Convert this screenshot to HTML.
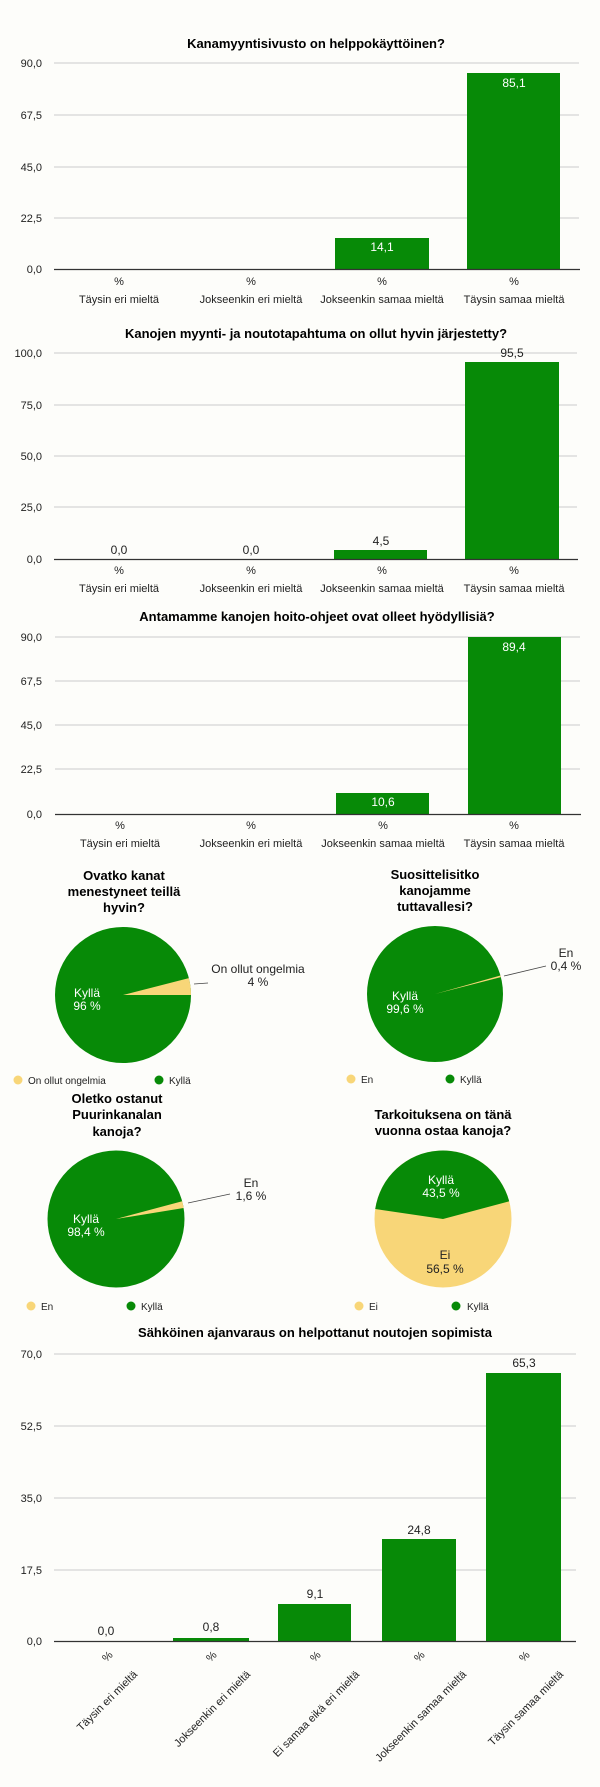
<!DOCTYPE html>
<html><head><meta charset="utf-8"><style>
html,body{margin:0;padding:0;background:#fdfdfa;}
svg{display:block;font-family:"Liberation Sans",Arial,sans-serif;}
.t{font-weight:bold;font-size:13px;fill:#000;text-anchor:middle}
.y{font-size:11px;fill:#222;text-anchor:end}
.c{font-size:11px;fill:#222;text-anchor:middle}
.g{stroke:#ccc;stroke-width:1}
.ax{stroke:#333;stroke-width:1.3}
.b{fill:#078a07}
.w{font-size:12px;fill:#fff;text-anchor:middle}
.d{font-size:12px;fill:#222;text-anchor:middle}
.l{font-size:10px;fill:#222}
</style></head><body>
<svg width="600" height="1787" viewBox="0 0 600 1787">
<!-- Chart 1 -->
<text class="t" x="316" y="48">Kanamyyntisivusto on helppokäyttöinen?</text>
<line class="g" x1="54" y1="63" x2="579" y2="63"/><line class="g" x1="54" y1="115" x2="579" y2="115"/><line class="g" x1="54" y1="167" x2="579" y2="167"/><line class="g" x1="54" y1="218" x2="579" y2="218"/>
<text class="y" x="42" y="67">90,0</text><text class="y" x="42" y="119">67,5</text><text class="y" x="42" y="171">45,0</text><text class="y" x="42" y="222">22,5</text><text class="y" x="42" y="273">0,0</text>
<rect class="b" x="335" y="238" width="94" height="31"/><rect class="b" x="467" y="73" width="93" height="196"/>
<line class="ax" x1="54" y1="269.5" x2="580" y2="269.5"/>
<text class="w" x="382" y="251">14,1</text><text class="w" x="514" y="87">85,1</text>
<text class="c" x="119" y="285">%</text><text class="c" x="251" y="285">%</text><text class="c" x="382" y="285">%</text><text class="c" x="514" y="285">%</text>
<text class="c" x="119" y="303">Täysin eri mieltä</text><text class="c" x="251" y="303">Jokseenkin eri mieltä</text><text class="c" x="382" y="303">Jokseenkin samaa mieltä</text><text class="c" x="514" y="303">Täysin samaa mieltä</text>
<!-- Chart 2 -->
<text class="t" x="316" y="338">Kanojen myynti- ja noutotapahtuma on ollut hyvin järjestetty?</text>
<line class="g" x1="54" y1="353" x2="577" y2="353"/><line class="g" x1="54" y1="405" x2="577" y2="405"/><line class="g" x1="54" y1="456" x2="577" y2="456"/><line class="g" x1="54" y1="507" x2="577" y2="507"/>
<text class="y" x="42" y="357">100,0</text><text class="y" x="42" y="409">75,0</text><text class="y" x="42" y="460">50,0</text><text class="y" x="42" y="511">25,0</text><text class="y" x="42" y="563">0,0</text>
<rect class="b" x="334" y="550" width="93" height="9"/><rect class="b" x="465" y="362" width="94" height="197"/>
<line class="ax" x1="54" y1="559.5" x2="578" y2="559.5"/>
<text class="d" x="119" y="554">0,0</text><text class="d" x="251" y="554">0,0</text><text class="d" x="381" y="545">4,5</text><text class="d" x="512" y="357">95,5</text>
<text class="c" x="119" y="574">%</text><text class="c" x="251" y="574">%</text><text class="c" x="382" y="574">%</text><text class="c" x="514" y="574">%</text>
<text class="c" x="119" y="592">Täysin eri mieltä</text><text class="c" x="251" y="592">Jokseenkin eri mieltä</text><text class="c" x="382" y="592">Jokseenkin samaa mieltä</text><text class="c" x="514" y="592">Täysin samaa mieltä</text>
<!-- Chart 3 -->
<text class="t" x="317" y="621">Antamamme kanojen hoito-ohjeet ovat olleet hyödyllisiä?</text>
<line class="g" x1="55" y1="637" x2="580" y2="637"/><line class="g" x1="55" y1="681" x2="580" y2="681"/><line class="g" x1="55" y1="725" x2="580" y2="725"/><line class="g" x1="55" y1="769" x2="580" y2="769"/>
<text class="y" x="42" y="641">90,0</text><text class="y" x="42" y="685">67,5</text><text class="y" x="42" y="729">45,0</text><text class="y" x="42" y="773">22,5</text><text class="y" x="42" y="818">0,0</text>
<rect class="b" x="336" y="793" width="93" height="21"/><rect class="b" x="468" y="637" width="93" height="177"/>
<line class="ax" x1="55" y1="814.5" x2="581" y2="814.5"/>
<text class="w" x="383" y="806">10,6</text><text class="w" x="514" y="651">89,4</text>
<text class="c" x="120" y="829">%</text><text class="c" x="251" y="829">%</text><text class="c" x="383" y="829">%</text><text class="c" x="514" y="829">%</text>
<text class="c" x="120" y="847">Täysin eri mieltä</text><text class="c" x="251" y="847">Jokseenkin eri mieltä</text><text class="c" x="383" y="847">Jokseenkin samaa mieltä</text><text class="c" x="514" y="847">Täysin samaa mieltä</text>
<!-- Pie 1 -->
<text class="t" x="124" y="880">Ovatko kanat</text><text class="t" x="124" y="896">menestyneet teillä</text><text class="t" x="124" y="912">hyvin?</text>
<circle cx="123" cy="995" r="68" fill="#078a07"/>
<path d="M123,995 L191,995 A68,68 0 0,0 188.86,978.09 Z" fill="#f8d678"/>
<line x1="194" y1="984" x2="208" y2="983" stroke="#444" stroke-width="0.8"/>
<text class="d" x="258" y="973">On ollut ongelmia</text><text class="d" x="258" y="986">4 %</text>
<text class="w" x="87" y="997">Kyllä</text><text class="w" x="87" y="1010">96 %</text>
<circle cx="18" cy="1080" r="4.5" fill="#f8d678"/><text class="l" x="28" y="1084">On ollut ongelmia</text>
<circle cx="159" cy="1080" r="4.5" fill="#078a07"/><text class="l" x="169" y="1084">Kyllä</text>
<!-- Pie 2 -->
<text class="t" x="435" y="879">Suosittelisitko</text><text class="t" x="435" y="895">kanojamme</text><text class="t" x="435" y="911">tuttavallesi?</text>
<circle cx="435" cy="994" r="68" fill="#078a07"/>
<path d="M435,994 L500.86,977.09 A68,68 0 0,0 500.42,975.44 Z" fill="#f8d678"/>
<line x1="504" y1="976" x2="546" y2="966" stroke="#444" stroke-width="0.8"/>
<text class="d" x="566" y="957">En</text><text class="d" x="566" y="970">0,4 %</text>
<text class="w" x="405" y="1000">Kyllä</text><text class="w" x="405" y="1013">99,6 %</text>
<circle cx="351" cy="1079" r="4.5" fill="#f8d678"/><text class="l" x="361" y="1083">En</text>
<circle cx="450" cy="1079" r="4.5" fill="#078a07"/><text class="l" x="460" y="1083">Kyllä</text>
<!-- Pie 3 -->
<text class="t" x="117" y="1103">Oletko ostanut</text><text class="t" x="117" y="1119">Puurinkanalan</text><text class="t" x="117" y="1136">kanoja?</text>
<circle cx="116" cy="1219" r="68.5" fill="#078a07"/>
<path d="M116,1219 L183.62,1208.05 A68.5,68.5 0 0,0 182.17,1201.27 Z" fill="#f8d678"/>
<line x1="188" y1="1203" x2="230" y2="1194" stroke="#444" stroke-width="0.8"/>
<text class="d" x="251" y="1187">En</text><text class="d" x="251" y="1200">1,6 %</text>
<text class="w" x="86" y="1223">Kyllä</text><text class="w" x="86" y="1236">98,4 %</text>
<circle cx="31" cy="1306" r="4.5" fill="#f8d678"/><text class="l" x="41" y="1310">En</text>
<circle cx="131" cy="1306" r="4.5" fill="#078a07"/><text class="l" x="141" y="1310">Kyllä</text>
<!-- Pie 4 -->
<text class="t" x="443" y="1119">Tarkoituksena on tänä</text><text class="t" x="443" y="1135">vuonna ostaa kanoja?</text>
<circle cx="443" cy="1219" r="68.5" fill="#f8d678"/>
<path d="M443,1219 L509.17,1201.27 A68.5,68.5 0 0,0 375.24,1208.99 Z" fill="#078a07"/>
<text class="w" x="441" y="1184">Kyllä</text><text class="w" x="441" y="1197">43,5 %</text>
<text class="d" x="445" y="1259">Ei</text><text class="d" x="445" y="1273">56,5 %</text>
<circle cx="359" cy="1306" r="4.5" fill="#f8d678"/><text class="l" x="369" y="1310">Ei</text>
<circle cx="456" cy="1306" r="4.5" fill="#078a07"/><text class="l" x="467" y="1310">Kyllä</text>
<!-- Chart 5 -->
<text class="t" x="315" y="1337">Sähköinen ajanvaraus on helpottanut noutojen sopimista</text>
<line class="g" x1="54" y1="1354" x2="576" y2="1354"/><line class="g" x1="54" y1="1426" x2="576" y2="1426"/><line class="g" x1="54" y1="1498" x2="576" y2="1498"/><line class="g" x1="54" y1="1570" x2="576" y2="1570"/>
<text class="y" x="42" y="1358">70,0</text><text class="y" x="42" y="1430">52,5</text><text class="y" x="42" y="1502">35,0</text><text class="y" x="42" y="1574">17,5</text><text class="y" x="42" y="1645">0,0</text>
<rect class="b" x="173" y="1638" width="76" height="3"/><rect class="b" x="278" y="1604" width="73" height="37"/><rect class="b" x="382" y="1539" width="74" height="102"/><rect class="b" x="486" y="1373" width="75" height="268"/>
<line class="ax" x1="54" y1="1641.5" x2="576" y2="1641.5"/>
<text class="d" x="106" y="1635">0,0</text><text class="d" x="211" y="1631">0,8</text><text class="d" x="315" y="1598">9,1</text><text class="d" x="419" y="1534">24,8</text><text class="d" x="524" y="1367">65,3</text>
<g class="c">
<text transform="translate(110,1659) rotate(-45)" class="c">%</text>
<text transform="translate(214,1659) rotate(-45)" class="c">%</text>
<text transform="translate(318,1659) rotate(-45)" class="c">%</text>
<text transform="translate(422,1659) rotate(-45)" class="c">%</text>
<text transform="translate(527,1659) rotate(-45)" class="c">%</text>
</g>
<text transform="translate(138,1675) rotate(-45)" class="y" style="font-size:11px">Täysin eri mieltä</text>
<text transform="translate(251,1675) rotate(-45)" class="y" style="font-size:11px">Jokseenkin eri mieltä</text>
<text transform="translate(360,1675) rotate(-45)" class="y" style="font-size:11px">Ei samaa eikä eri mieltä</text>
<text transform="translate(467,1675) rotate(-45)" class="y" style="font-size:11px">Jokseenkin samaa mieltä</text>
<text transform="translate(564,1675) rotate(-45)" class="y" style="font-size:11px">Täysin samaa mieltä</text>
</svg>
</body></html>
